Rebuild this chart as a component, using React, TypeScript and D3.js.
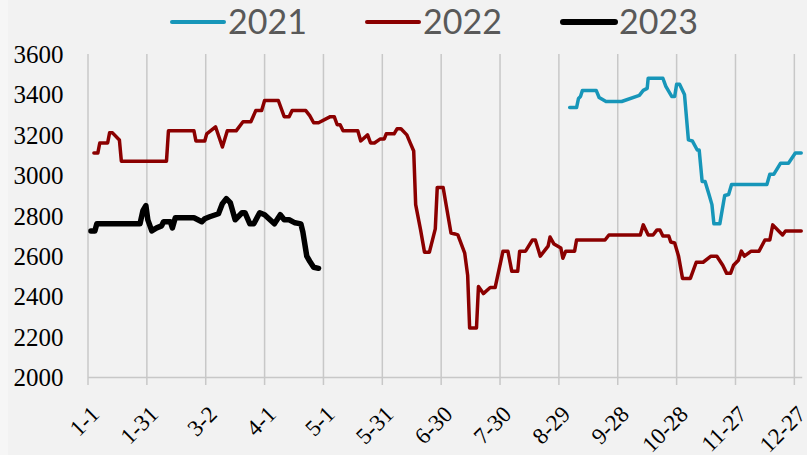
import React from "react";
import * as d3 from "d3";

// day offsets from 1-1
const tickDays = [0, 30, 60, 90, 120, 150, 180, 210, 240, 270, 300, 330, 360];
const tickLabels = ["1-1", "1-31", "3-2", "4-1", "5-1", "5-31", "6-30", "7-30", "8-29", "9-28", "10-28", "11-27", "12-27"];
const yTicks = [2000, 2200, 2400, 2600, 2800, 3000, 3200, 3400, 3600];

const days2021 = [245.5, 249, 250, 251, 252, 259, 260.5, 264, 272, 281, 283, 285, 285.5, 293, 294.5, 297.5, 299, 300, 301.5, 304, 306, 308, 310.5, 311.5, 313, 314.5, 316.5, 318, 319, 322, 324.5, 326.5, 328, 346, 347.5, 349.5, 353, 357, 360.5, 363.5];
const vals2021 = [3335, 3335, 3380, 3390, 3420, 3420, 3385, 3365, 3365, 3395, 3420, 3430, 3480, 3480, 3440, 3390, 3390, 3450, 3450, 3400, 3175, 3170, 3125, 3125, 2970, 2970, 2905, 2855, 2760, 2760, 2900, 2905, 2955, 2955, 3005, 3005, 3060, 3060, 3110, 3110];

const days2022 = [3, 5, 6, 10, 11, 12.5, 16, 17, 40, 41, 54, 55, 59.5, 60.5, 65, 68.5, 71, 75.5, 79, 83, 85.5, 88.5, 90, 97, 100, 102.5, 104, 111, 113, 115, 117.5, 123.5, 125.5, 127, 128.5, 130, 137.5, 139, 142.5, 144, 146, 149, 151, 152, 156, 157.5, 159.5, 162.5, 164, 166, 167, 169.5, 171.5, 174, 177, 178, 181, 185, 187, 188.5, 192, 193.5, 194.5, 198, 199, 201.5, 205, 207.5, 211.5, 214, 216, 219, 220, 223, 226.5, 228, 230.5, 234.5, 235.5, 237.5, 241, 242, 243.5, 248, 249, 263.5, 265.5, 281.5, 283, 285.5, 288, 290, 291.5, 293, 296, 297, 299, 301, 303, 307, 310, 313.5, 317.5, 320.5, 323.5, 325.5, 327.5, 329, 331.5, 333, 334.5, 338, 342, 345, 347.5, 349, 352, 354, 355.5, 363.5];
const vals2022 = [3110, 3110, 3160, 3160, 3210, 3210, 3175, 3070, 3070, 3220, 3220, 3170, 3170, 3205, 3240, 3140, 3220, 3220, 3265, 3265, 3320, 3320, 3370, 3370, 3290, 3290, 3320, 3320, 3295, 3260, 3260, 3290, 3290, 3250, 3250, 3220, 3220, 3170, 3200, 3160, 3160, 3180, 3180, 3205, 3205, 3230, 3230, 3200, 3165, 3120, 2855, 2730, 2620, 2620, 2735, 2940, 2940, 2715, 2710, 2705, 2615, 2505, 2245, 2245, 2450, 2415, 2445, 2445, 2625, 2625, 2525, 2525, 2625, 2625, 2680, 2680, 2600, 2650, 2695, 2660, 2640, 2590, 2625, 2625, 2680, 2680, 2705, 2705, 2755, 2705, 2705, 2730, 2730, 2700, 2700, 2670, 2665, 2600, 2490, 2490, 2570, 2570, 2600, 2600, 2555, 2515, 2515, 2555, 2580, 2625, 2600, 2625, 2625, 2680, 2680, 2755, 2725, 2705, 2725, 2725];

const days2023 = [1.5, 3.5, 4.5, 26.5, 28, 29.5, 30.5, 32.5, 35, 37.5, 38.5, 42, 43, 44.5, 54, 58, 59.5, 62, 65, 66.5, 68.5, 70.5, 72.5, 75, 78.5, 80, 82.5, 84.5, 87.5, 90, 95, 98, 100, 102.5, 105.5, 108.5, 109.5, 111.5, 113, 115, 117.5];
const vals2023 = [2725, 2725, 2760, 2760, 2825, 2850, 2780, 2725, 2740, 2750, 2770, 2770, 2740, 2790, 2790, 2770, 2785, 2795, 2805, 2810, 2860, 2885, 2865, 2780, 2815, 2815, 2760, 2760, 2815, 2805, 2760, 2805, 2780, 2780, 2765, 2760, 2720, 2600, 2575, 2545, 2540];

const series = [
  { name: "2021", days: days2021, vals: vals2021, color: "#1796b9", width: 3.5 },
  { name: "2022", days: days2022, vals: vals2022, color: "#8b0000", width: 3.5 },
  { name: "2023", days: days2023, vals: vals2023, color: "#000000", width: 5.5 },
];

const W = 807;
const H = 455;
const serif = "Liberation Serif";

export default function App() {
  const x = d3.scaleLinear().domain([0, 364]).range([88, 802.2]);
  const y = d3.scaleLinear().domain([2000, 3600]).range([377.5, 54]);

  const line = d3
    .line<[number, number]>()
    .x((d) => x(d[0]))
    .y((d) => y(d[1]));

  const legendX = [172, 367, 563];

  return (
    <svg
      width={W}
      height={H}
      style={{ position: "absolute", left: 0, top: 0, display: "block" }}
    >
      <rect x={0} y={0} width={W} height={H} fill="#f6f6f6" />
      <rect x={8} y={0} width={W - 8} height={H} fill="#f2f2f2" />

      {/* vertical gridlines + ticks */}
      {tickDays.map((d) => (
        <line
          key={d}
          x1={x(d)}
          x2={x(d)}
          y1={y(3600)}
          y2={385}
          stroke="#c8c8c8"
          strokeWidth={1.5}
        />
      ))}
      <line x1={x(0)} x2={x(364)} y1={y(2000)} y2={y(2000)} stroke="#c8c8c8" strokeWidth={1.5} />

      {/* y labels */}
      {yTicks.map((v) => (
        <text
          key={v}
          x={63.5}
          y={y(v)}
          dy="0.35em"
          textAnchor="end"
          style={{ fontFamily: serif, fontSize: 25 }}
          fill="#000"
        >
          {v}
        </text>
      ))}

      {/* x labels */}
      {tickDays.map((d, i) => (
        <text
          key={d}
          transform={`translate(${x(d) + 7},410) rotate(-45)`}
          dy="0.35em"
          textAnchor="end"
          style={{ fontFamily: serif, fontSize: 23 }}
          fill="#000"
        >
          {tickLabels[i]}
        </text>
      ))}

      {/* series */}
      {series.map((s) => (
        <path
          key={s.name}
          d={line(s.days.map((d, i) => [d, s.vals[i]] as [number, number])) || ""}
          fill="none"
          stroke={s.color}
          strokeWidth={s.width}
          strokeLinejoin="round"
          strokeLinecap="round"
        />
      ))}

      {/* legend */}
      {series.map((s, i) => (
        <g key={s.name} transform={`translate(${legendX[i]},22)`}>
          <line x1={0} x2={52} y1={0} y2={0} stroke={s.color} strokeWidth={s.width + 0.5} strokeLinecap="round" />
          <text
            x={56}
            y={12}
            style={{ fontFamily: "Lato, sans-serif", fontSize: 34 }}
            fill="#595959"
          >
            {s.name}
          </text>
        </g>
      ))}
    </svg>
  );
}
